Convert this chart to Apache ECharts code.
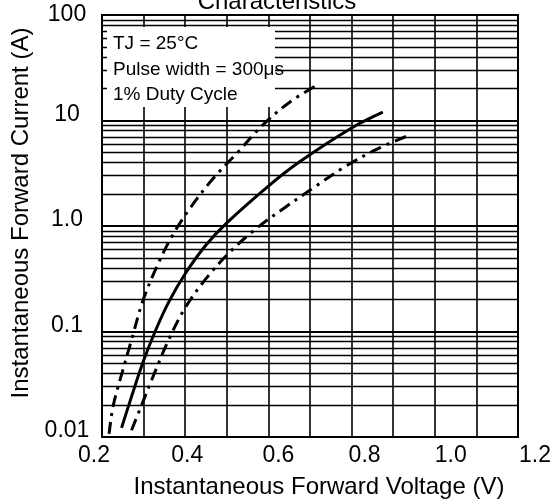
<!DOCTYPE html>
<html>
<head>
<meta charset="utf-8">
<script src="https://cdn.jsdelivr.net/npm/echarts@6/dist/echarts.min.js"></script>
<style>html,body{margin:0;padding:0;background:#fff}#c{width:554px;height:504px}</style>
</head>
<body>
<div id="c"></div>
<script>
// ---- data ----
const titleText = 'Characteristics';
const xName = 'Instantaneous Forward Voltage (V)';
const yName = 'Instantaneous Forward Current (A)';
const noteLines = ['TJ = 25°C', 'Pulse width = 300μs', '1% Duty Cycle'];
const xTickLabels = ['0.2', '0.4', '0.6', '0.8', '1.0', '1.2'];
const yTickLabels = ['0.01', '0.1', '1.0', '10', '100'];
const minorMultipliers = [2, 3, 4, 5, 6, 7, 8, 9];
const decades = [0.01, 0.1, 1, 10];

const typV = [0.247, 0.27, 0.3, 0.33, 0.36, 0.4, 0.45, 0.5, 0.6, 0.675, 0.8, 0.875];
const typI = [0.0122, 0.0235, 0.053, 0.105, 0.189, 0.353, 0.66, 1.07, 2.39, 4.06, 8.5, 12];

const lowV = [0.217, 0.227, 0.249, 0.273, 0.297, 0.329, 0.3675, 0.414, 0.4676, 0.5277, 0.587, 0.652, 0.72];
const lowI = [0.0107, 0.0198, 0.0416, 0.0887, 0.189, 0.39, 0.79, 1.52, 2.83, 5.06, 9.1, 15, 22];

const highV = [0.271, 0.293, 0.325, 0.359, 0.398, 0.448, 0.506, 0.57, 0.64, 0.712, 0.784, 0.86, 0.94];
const highI = [0.0116, 0.0191, 0.0393, 0.0813, 0.163, 0.31, 0.56, 0.94, 1.5, 2.36, 3.65, 5.33, 7.3];

// ---- build ----
const pair = (xs, ys) => xs.map((x, i) => [x, ys[i]]);
const FONT = 'Liberation Sans, Arial, Helvetica, sans-serif';
const minorLines = [];
decades.forEach(d => minorMultipliers.forEach(m => minorLines.push({ yAxis: +(d * m).toPrecision(3) })));

// per-label horizontal offsets (style only)
const xPad = [[0, 16, 0, 0], [0, 0, 0, 4], [0, 0, 0, 20], [0, 0, 0, 26], [0, 0, 0, 32], [0, 0, 0, 34]];
const xRich = {};
xPad.forEach((p, i) => { xRich['x' + i] = { padding: p, fontSize: 23, fontFamily: FONT, color: '#000' }; });

const dashDot = [12, 6, 3, 6];

const chart = echarts.init(document.getElementById('c'), null, { renderer: 'canvas' });
chart.setOption({
  animation: false,
  backgroundColor: '#fff',
  grid: { left: 102, right: 36, top: 15, bottom: 67, show: true, borderColor: '#000', borderWidth: 2, backgroundColor: 'transparent' },
  xAxis: {
    type: 'value', min: 0.2, max: 1.2, interval: 0.1,
    name: xName, nameLocation: 'middle', nameGap: 38,
    nameTextStyle: { fontSize: 24, fontFamily: FONT, color: '#000', padding: [0, 0, 0, 18] },
    axisLine: { show: true, lineStyle: { color: '#000', width: 2 } },
    axisTick: { show: false },
    splitLine: { show: true, lineStyle: { color: '#000', width: 1.6 } },
    axisLabel: {
      margin: 7, fontSize: 23, fontFamily: FONT, color: '#000',
      formatter: v => {
        const k = Math.round(v * 10);
        if (k % 2 !== 0) return '';
        const idx = (k - 2) / 2;
        return '{x' + idx + '|' + xTickLabels[idx] + '}';
      },
      rich: xRich
    }
  },
  yAxis: {
    type: 'log', logBase: 10, min: 0.01, max: 100,
    name: yName, nameLocation: 'middle', nameGap: 68, nameRotate: 90,
    nameTextStyle: { fontSize: 24, fontFamily: FONT, color: '#000', padding: [0, 0, 0, 26] },
    axisLine: { show: true, lineStyle: { color: '#000', width: 2 } },
    axisTick: { show: false },
    splitLine: { show: true, lineStyle: { color: '#000', width: 2 } },
    axisLabel: {
      margin: 35, align: 'center', fontSize: 23, fontFamily: FONT, color: '#000',
      formatter: v => {
        const k = Math.round(Math.log10(v)) + 2;
        return (k === 4 ? '{t|' : '{u|') + yTickLabels[k] + '}';
      },
      rich: {
        u: { padding: [0, 0, 12, 0], fontSize: 23, fontFamily: FONT, color: '#000' },
        t: { fontSize: 23, fontFamily: FONT, color: '#000' }
      }
    }
  },
  graphic: [
    { type: 'text', z: 100, style: { text: titleText, x: 277, y: 2, textAlign: 'center', textVerticalAlign: 'middle', font: '24px ' + FONT, fill: '#000' } },
    { type: 'rect', z: 100, shape: { x: 107, y: 27, width: 168, height: 80 }, style: { fill: '#fff' } },
    { type: 'text', z: 101, style: { text: noteLines[0], x: 113, y: 44, textVerticalAlign: 'middle', font: '19px ' + FONT, fill: '#000' } },
    { type: 'text', z: 101, style: { text: noteLines[1], x: 113, y: 70, textVerticalAlign: 'middle', font: '19px ' + FONT, fill: '#000' } },
    { type: 'text', z: 101, style: { text: noteLines[2], x: 113, y: 95, textVerticalAlign: 'middle', font: '19px ' + FONT, fill: '#000' } }
  ],
  series: [
    {
      name: 'typ', type: 'line', data: pair(typV, typI), smooth: 0.35,
      symbol: 'none', lineStyle: { color: '#000', width: 3 }, z: 5,
      markLine: {
        silent: true, symbol: 'none', animation: false, label: { show: false },
        lineStyle: { color: '#000', width: 1.3, type: 'solid' },
        data: minorLines
      }
    },
    {
      name: 'low', type: 'line', data: pair(lowV, lowI), smooth: 0.35,
      symbol: 'none', lineStyle: { color: '#000', width: 3, type: dashDot }, z: 5
    },
    {
      name: 'high', type: 'line', data: pair(highV, highI), smooth: 0.35,
      symbol: 'none', lineStyle: { color: '#000', width: 3, type: dashDot }, z: 5
    }
  ]
});
</script>
</body>
</html>
